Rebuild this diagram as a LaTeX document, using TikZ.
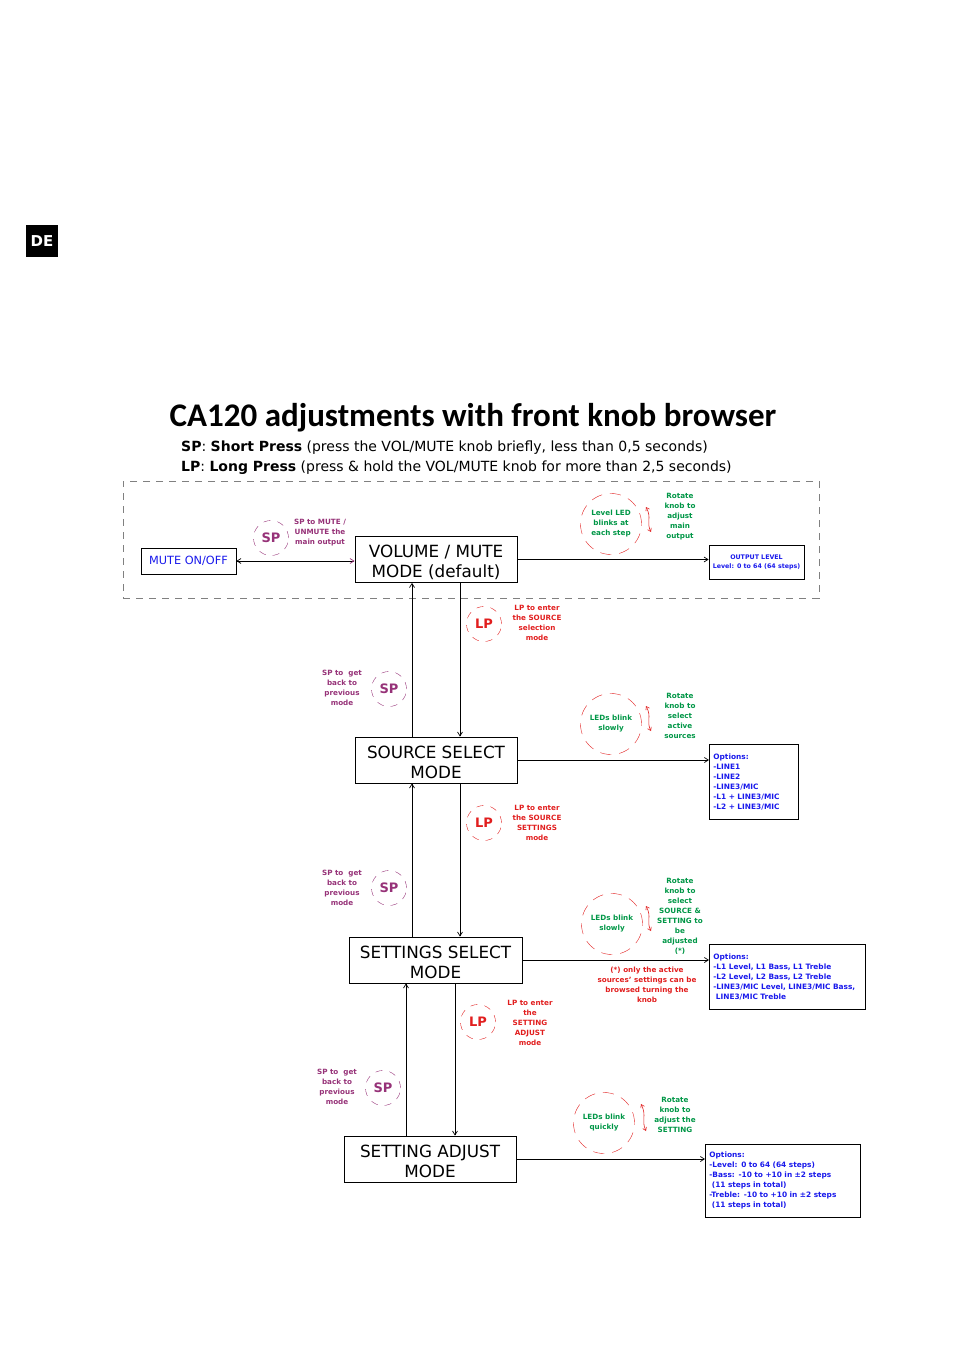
\documentclass[tikz,border=0pt]{standalone}
\usepackage{fontspec}
\setmainfont{DejaVu Sans}
\newfontfamily\titlefont{Carlito}
\usetikzlibrary{arrows.meta}
\definecolor{sppurple}{RGB}{150,50,120}
\definecolor{lpred}{RGB}{225,30,30}
\definecolor{rgreen}{RGB}{0,150,70}
\definecolor{optblue}{RGB}{25,25,235}
\begin{document}
\begin{tikzpicture}[x=1pt,y=-1pt,
  modebox/.style={draw, line width=0.8pt, minimum height=46, inner sep=0},
  modetext/.style={inner sep=0, align=center, font=\fontsize{16.8}{20}\selectfont},
  optbox/.style={draw, line width=0.8pt, inner sep=4, align=left, text=optblue, font=\bfseries\fontsize{7.4}{10}\selectfont},
  lbl/.style={align=center, inner sep=0, font=\bfseries\fontsize{7.2}{10}\selectfont},
  spcirc/.style={circle, draw=sppurple, dash pattern=on 7pt off 7pt, minimum size=35, inner sep=0, text=sppurple, font=\bfseries\fontsize{13}{13}\selectfont},
  lpcirc/.style={circle, draw=lpred, dash pattern=on 7pt off 7pt, minimum size=35, inner sep=0, text=lpred, font=\bfseries\fontsize{13}{13}\selectfont},
  ledcirc/.style={circle, draw=lpred, dash pattern=on 11pt off 8pt, minimum size=61, inner sep=0, text=rgreen, align=center, font=\bfseries\fontsize{7.2}{10}\selectfont},
  conn/.style={line width=0.7pt, -{Straight Barb[length=4pt,width=5pt]}},
  rot/.style={lpred, line width=0.6pt, {Straight Barb[length=3pt,width=4pt]}-{Straight Barb[length=3pt,width=4pt]}}
]
\path[use as bounding box] (0,0) rectangle (954,1351);

% badge and title
\node[fill=black, minimum size=32, inner sep=0, text=white, font=\bfseries\fontsize{15}{15}\selectfont] (de) at (42,241) {DE};
\node[anchor=base, inner sep=0, font=\titlefont\bfseries\fontsize{33}{33}\selectfont] (title) at (473,426) {CA120 adjustments with front knob browser};
\node[anchor=base west, inner sep=0, font=\fontsize{14}{16}\selectfont] (spdef) at (181,451) {\textbf{SP}: \textbf{Short Press} (press the VOL/MUTE knob briefly, less than 0,5 seconds)};
\node[anchor=base west, inner sep=0, font=\fontsize{14}{16}\selectfont] (lpdef) at (181,471) {\textbf{LP}: \textbf{Long Press} (press \& hold the VOL/MUTE knob for more than 2,5 seconds)};

% dashed frame
\node[draw=gray, line width=0.7pt, dash pattern=on 7pt off 6pt, minimum width=696, minimum height=117, inner sep=0] (frame) at (471,539.5) {};

% mode boxes
\node[modebox, minimum width=162] (vol) at (436,559.5) {};
\node[modetext] (volt) at (436,562) {VOLUME / MUTE\\MODE (default)};
\node[modebox, minimum width=162] (src) at (436,760) {};
\node[modetext] (srct) at (436,762) {SOURCE SELECT\\MODE};
\node[modebox, minimum width=173] (set) at (435.5,960) {};
\node[modetext] (sett) at (435.5,962) {SETTINGS SELECT\\MODE};
\node[modebox, minimum width=172] (adj) at (430,1159) {};
\node[modetext] (adjt) at (430,1161) {SETTING ADJUST\\MODE};

% side boxes
\node[draw, line width=0.8pt, minimum width=95, minimum height=26, inner sep=0, text=optblue, font=\fontsize{11.3}{12}\selectfont] (mute) at (188.5,561) {MUTE ON/OFF};
\node[draw, line width=0.8pt, minimum width=95, minimum height=34, inner sep=0, align=center, text=optblue, font=\bfseries\fontsize{6.3}{9}\selectfont] (out) at (756.5,562) {OUTPUT LEVEL\\Level: 0 to 64 (64 steps)};
\node[optbox, minimum width=89, minimum height=75, text width=81, anchor=north west] (opt1) at (709,744) {Options:\\-LINE1\\-LINE2\\-LINE3/MIC\\-L1 + LINE3/MIC\\-L2 + LINE3/MIC};
\node[optbox, minimum width=156, minimum height=65, text width=148, anchor=north west] (opt2) at (709,944) {Options:\\-L1 Level, L1 Bass, L1 Treble\\-L2 Level, L2 Bass, L2 Treble\\-LINE3/MIC Level, LINE3/MIC Bass,\\\ LINE3/MIC Treble};
\node[optbox, minimum width=155, minimum height=73, text width=147, anchor=north west] (opt3) at (705,1144) {Options:\\-Level: 0 to 64 (64 steps)\\-Bass: -10 to +10 in ±2 steps\\\ (11 steps in total)\\-Treble: -10 to +10 in ±2 steps\\\ (11 steps in total)};

% connectors
\draw[line width=0.7pt, {Straight Barb[length=4pt,width=5pt]}-{Straight Barb[length=4pt,width=5pt,color=sppurple]}] (mute.east) -- (mute.east -| vol.west);
\draw[conn] (vol.east) -- (vol.east -| out.west);
\draw[conn] (src.east) -- (src.east -| opt1.west);
\draw[conn] (set.east) -- (set.east -| opt2.west);
\draw[conn] (adj.east) -- (adj.east -| opt3.west);

\coordinate (xa) at (412,0);
\coordinate (xb) at (460,0);
\coordinate (xc) at (406,0);
\coordinate (xd) at (455,0);
\draw[conn] (src.north -| xa) -- (vol.south -| xa);
\draw[conn] (vol.south -| xb) -- (src.north -| xb);
\draw[conn] (set.north -| xa) -- (src.south -| xa);
\draw[conn] (src.south -| xb) -- (set.north -| xb);
\draw[conn] (adj.north -| xc) -- (set.south -| xc);
\draw[conn] (set.south -| xd) -- (adj.north -| xd);

% top section labels
\node[spcirc] (sp0) at (271,538) {SP};
\node[lbl, text=sppurple] (sp0t) at (320,533) {SP to MUTE /\\UNMUTE the\\main output};
\node[ledcirc] (led0) at (611,524) {Level LED\\blinks at\\each step};
\draw[rot] (646,507) .. controls (652,518) and (646,522) .. (651,532);
\node[lbl, text=rgreen] (rot0) at (680,517) {Rotate\\knob to\\adjust\\main\\output};

% between volume and source
\node[lpcirc] (lp1) at (484,624) {LP};
\node[lbl, text=lpred] (lp1t) at (537,623) {LP to enter\\the SOURCE\\selection\\mode};
\node[spcirc] (sp1) at (389,689) {SP};
\node[lbl, text=sppurple] (sp1t) at (342,688) {SP to\ \ get\\back to\\previous\\mode};
\node[ledcirc] (led1) at (611,724) {LEDs blink\\slowly};
\draw[rot] (646,706) .. controls (652,717) and (646,721) .. (651,731);
\node[lbl, text=rgreen] (rot1) at (680,716) {Rotate\\knob to\\select\\active\\sources};

% between source and settings
\node[lpcirc] (lp2) at (484,823) {LP};
\node[lbl, text=lpred] (lp2t) at (537,823) {LP to enter\\the SOURCE\\SETTINGS\\mode};
\node[spcirc] (sp2) at (389,888) {SP};
\node[lbl, text=sppurple] (sp2t) at (342,888) {SP to\ \ get\\back to\\previous\\mode};
\node[ledcirc] (led2) at (612,924) {LEDs blink\\slowly};
\draw[rot] (646,906) .. controls (652,917) and (646,921) .. (651,931);
\node[lbl, text=rgreen] (rot2) at (680,916) {Rotate\\knob to\\select\\SOURCE \&\\SETTING to\\be\\adjusted\\(*)};
\node[lbl, text=lpred] (note) at (647,985) {(*) only the active\\sources' settings can be\\browsed turning the\\knob};

% between settings and adjust
\node[lpcirc] (lp3) at (478,1022) {LP};
\node[lbl, text=lpred] (lp3t) at (530,1023) {LP to enter\\the\\SETTING\\ADJUST\\mode};
\node[spcirc] (sp3) at (383,1088) {SP};
\node[lbl, text=sppurple] (sp3t) at (337,1087) {SP to\ \ get\\back to\\previous\\mode};
\node[ledcirc] (led3) at (604,1123) {LEDs blink\\quickly};
\draw[rot] (641,1104) .. controls (647,1116) and (641,1120) .. (646,1131);
\node[lbl, text=rgreen] (rot3) at (675,1115) {Rotate\\knob to\\adjust the\\SETTING};
\end{tikzpicture}
\end{document}
